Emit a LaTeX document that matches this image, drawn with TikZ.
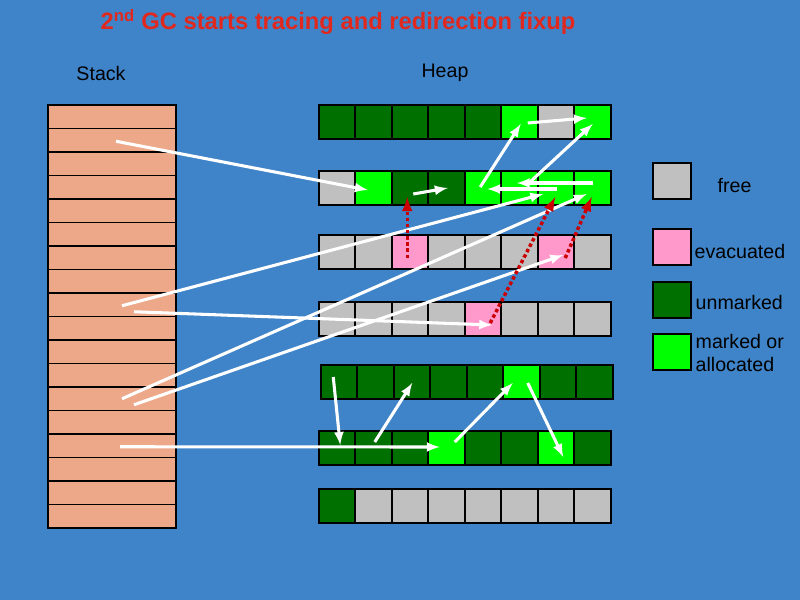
\documentclass[tikz,border=0pt]{standalone}
\usepackage{fontspec}
\setmainfont{Liberation Sans}
\usetikzlibrary{positioning}
\definecolor{bgblue}{RGB}{63,132,200}
\definecolor{darkgr}{RGB}{0,112,0}
\definecolor{lightgr}{RGB}{0,255,0}
\definecolor{freegray}{RGB}{192,192,192}
\definecolor{evacpink}{RGB}{255,153,204}
\definecolor{stackcol}{RGB}{236,168,136}
\definecolor{titlered}{RGB}{225,40,30}
\tikzset{
	cell/.style={draw, line width=1.5pt, rectangle, inner sep=0pt, minimum width=27.4pt, minimum height=24.8pt},
	cD/.style={cell, fill=darkgr},
	cL/.style={cell, fill=lightgr},
	cG/.style={cell, fill=freegray},
	cP/.style={cell, fill=evacpink},
	slot/.style={draw, line width=1.2pt, rectangle, inner sep=0pt, minimum width=96pt, minimum height=17.6pt, fill=stackcol},
	% labels
	lbl/.style={font=\fontsize{14.7}{17.5}\selectfont, text=black},
	ptr/.style={white, line width=2.3pt, -latex},
	fix/.style={red!80!black, line width=2.6pt, dotted, -latex},
}
\begin{document}
\begin{tikzpicture}[x=0.75pt, y=-0.75pt]
	\fill[bgblue] (0,0) rectangle (800,600);
	\useasboundingbox (0,0) rectangle (800,600);
	
	\node (title) [font=\bfseries\fontsize{17.8}{21}\selectfont, text=titlered] at (338,22) {2\textsuperscript{nd} GC starts tracing and redirection fixup};
	\node (stacklbl) [lbl] at (101,73) {Stack};
	\node (heaplbl) [lbl] at (445,73) {Heap};
	
	% stack slots
	\foreach \k in {1,...,18}
		\node (s\k) [slot] at (112,{105+23.5*(\k-0.5)}) {};
	
	% heap rows
	\foreach \r/\x/\y/\cols in {
		1/319/122/{D,D,D,D,D,L,G,L},
		2/319/188/{G,L,D,D,L,L,L,L},
		3/319/252/{G,G,P,G,G,G,P,G},
		4/319/319/{G,G,G,G,P,G,G,G},
		5/321/382/{D,D,D,D,D,L,D,D},
		6/319/448/{D,D,D,L,D,D,L,D},
		7/319/506/{D,G,G,G,G,G,G,G}}
	{
		\foreach \c [count=\i] in \cols
			\node (h\r c\i) [c\c] at ({\x+36.5*(\i-0.5)},\y) {};
	}
	
	% legend
	\node (kfree) [cG, minimum width=28.5pt, minimum height=27pt] at (672,181) {};
	\node (kevac) [cP, minimum width=28.5pt, minimum height=27pt] at (672,247) {};
	\node (kunm) [cD, minimum width=28.5pt, minimum height=27pt] at (672,300) {};
	\node (kmark) [cL, minimum width=28.5pt, minimum height=27pt] at (672,352) {};
	\node [lbl, anchor=west] at (713,186) {free};
	\node [lbl, anchor=west] at (690,251) {evacuated};
	\node [lbl, anchor=west] at (691,302) {unmarked};
	\node [lbl, anchor=west, align=left] at (691,353) {marked or\\allocated};
	
	% pointers
	\draw[ptr] ([shift={(8,1)}]h1c6.center) -- ([shift={(-6,-4)}]h1c8.center);
	\draw[ptr] ([shift={(-3,-1)}]h2c5.center) -- ([shift={(1,2)}]h1c6.center);
	\draw[ptr] ([shift={(7,-3)}]h2c6.center) -- ([shift={(0,2)}]h1c8.center);
	\draw[ptr] ([shift={(0,-5)}]h2c8.center) -- ([shift={(-3,-5)}]h2c6.center);
	\draw[ptr] ([shift={(1,1)}]h2c7.center) -- ([shift={(4,1)}]h2c5.center);
	\draw[ptr] ([shift={(3,6)}]h2c3.center) -- ([shift={(1,0)}]h2c4.center);
	\draw[ptr] ([shift={(4,1)}]s2.center) -- ([shift={(-6,2)}]h2c2.center);
	\draw[ptr] ([shift={(10,1)}]s9.center) -- ([shift={(-13,6)}]h2c7.center);
	\draw[ptr] ([shift={(22,7)}]s9.center) -- ([shift={(9,6)}]h4c5.center);
	\draw[ptr] ([shift={(10,0)}]s13.center) -- ([shift={(-6,6)}]h2c8.center);
	\draw[ptr] ([shift={(22,6)}]s13.center) -- ([shift={(7,3)}]h3c7.center);
	\draw[ptr] ([shift={(8,1)}]s15.center) -- ([shift={(-7,-1)}]h6c4.center);
	\draw[ptr] ([shift={(-6,-5)}]h5c1.center) -- ([shift={(3,-3)}]h6c1.center);
	\draw[ptr] ([shift={(1,-6)}]h6c2.center) -- ([shift={(0,1)}]h5c3.center);
	\draw[ptr] ([shift={(8,-6)}]h6c4.center) -- ([shift={(-9,1)}]h5c6.center);
	\draw[ptr] ([shift={(6,1)}]h5c6.center) -- ([shift={(7,9)}]h6c7.center);
	
	% redirection fixups
	\draw[fix] ([shift={(-3,6)}]h3c3.center) -- ([shift={(-3,9)}]h2c3.center);
	\draw[fix] ([shift={(7,4)}]h4c5.center) -- ([shift={(-1,9)}]h2c7.center);
	\draw[fix] ([shift={(9,6)}]h3c7.center) -- ([shift={(-1,9)}]h2c8.center);
\end{tikzpicture}
\end{document}
